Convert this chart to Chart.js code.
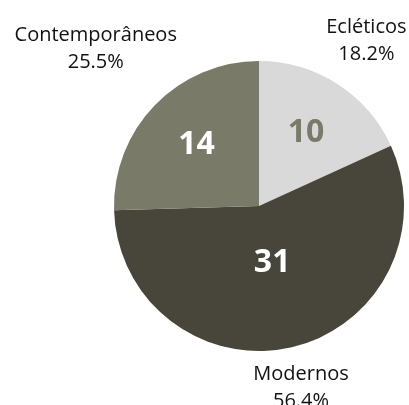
<!DOCTYPE html>
<html>
<head>
<meta charset="utf-8">
<script src="https://cdn.jsdelivr.net/npm/chart.js@4"></script>
<style>
  html, body { margin: 0; padding: 0; background: #fff; }
  #wrap { width: 409px; height: 405px; }
</style>
</head>
<body>
<div id="wrap"><canvas id="chart-pie"></canvas></div>
<script>
// ── Data ─────────────────────────────────────────────────────────
const labels = ['Ecléticos', 'Modernos', 'Contemporâneos'];
const counts = [10, 31, 14];
const percents = ['18.2%', '56.4%', '25.5%'];

const COLORS = ['#d9d9d9', '#48463a', '#7a7a68'];
const INNER_TEXT = ['#7a7a68', '#ffffff', '#ffffff'];
const INNER_DIST = [0.60, 0.40, 0.60];   // fraction of radius for the count
const OUTER_DIST = [1.37, 1.28, 1.57];   // fraction of radius for name + percent

const FONT = "'Open Sans', 'Noto Sans', sans-serif";

// draws counts inside the slices and names/percents outside
const sliceLabels = {
  id: 'sliceLabels',
  afterDatasetsDraw(chart) {
    const ctx = chart.ctx;
    const arcs = chart.getDatasetMeta(0).data;
    ctx.save();
    ctx.textAlign = 'center';
    ctx.textBaseline = 'middle';
    arcs.forEach((arc, i) => {
      const { x, y, startAngle, endAngle, outerRadius } = arc.getProps(['x', 'y', 'startAngle', 'endAngle', 'outerRadius'], true);
      const mid = (startAngle + endAngle) / 2;

      const ri = outerRadius * INNER_DIST[i];
      ctx.fillStyle = INNER_TEXT[i];
      ctx.font = `bold 32px ${FONT}`;
      ctx.fillText(String(counts[i]), x + Math.cos(mid) * ri, y + Math.sin(mid) * ri);

      const ro = outerRadius * OUTER_DIST[i];
      const ox = x + Math.cos(mid) * ro;
      const oy = y + Math.sin(mid) * ro + 2;
      ctx.fillStyle = '#111111';
      ctx.font = `20px ${FONT}`;
      ctx.fillText(labels[i], ox, oy - 14);
      ctx.fillText(percents[i], ox, oy + 13);
    });
    ctx.restore();
  }
};

new Chart(document.getElementById('chart-pie'), {
  type: 'pie',
  data: {
    labels: labels,
    datasets: [{
      data: counts,
      backgroundColor: COLORS,
      borderWidth: 0,
    }]
  },
  options: {
    responsive: true,
    maintainAspectRatio: false,
    animation: false,
    layout: { padding: { left: 114, right: 5, top: 61, bottom: 54 } },
    plugins: {
      legend: { display: false },
      tooltip: { enabled: false },
    },
  },
  plugins: [sliceLabels],
});
</script>
</body>
</html>
